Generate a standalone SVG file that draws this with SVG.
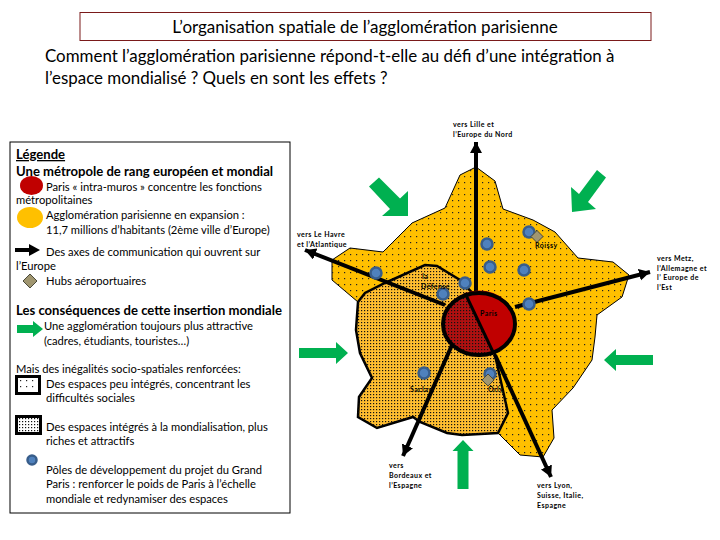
<svg xmlns="http://www.w3.org/2000/svg" width="720" height="540" viewBox="0 0 720 540">
<style>
text{font-family:"Lato","Open Sans","Liberation Sans",sans-serif;fill:#000}
.t{font-size:11.200px}
.h{font-size:13.100px;font-weight:700}
.s{font-size:16.900px}
.m{font-size:7px;letter-spacing:.45px;font-weight:700}
.road{fill:none;stroke:#000;stroke-width:4;marker-end:url(#ah)}
.line{fill:none;stroke:#000;stroke-width:3}
.pole{fill:#4F81BD;stroke:#385D8A;stroke-width:2.500}
.hub{fill:#A09670;stroke:#4a4a3a;stroke-width:1}
.green{fill:#00B050}
</style>
<defs>
<marker id="ah" markerUnits="userSpaceOnUse" markerWidth="14" markerHeight="14" refX="11" refY="6" orient="auto"><path d="M0 0L11 6L0 12Z" fill="#000"/></marker>
<pattern id="sparse" width="6" height="6" patternUnits="userSpaceOnUse"><rect x="2" y="2" width="1.200" height="1.200" fill="#222"/></pattern>
<pattern id="dense" width="3" height="3" patternUnits="userSpaceOnUse"><rect x="1" y="1" width="1.200" height="1.200" fill="#111"/></pattern>
</defs>
<rect width="720" height="540" fill="#fff"/>
<g id="title"><rect x="80" y="12.500" width="571" height="28" fill="#fff" stroke="#7a1a1a"/>
<text x="365" y="33" text-anchor="middle" font-size="17">L’organisation spatiale de l’agglomération parisienne</text></g>
<g id="question">
<text class="s" x="45" y="62">Comment l’agglomération parisienne répond-t-elle au défi d’une intégration à</text>
<text class="s" x="45" y="84">l’espace mondialisé ? Quels en sont les effets ?</text></g>
<g id="legend">
<rect x="10" y="142" width="280" height="371" fill="#fff" stroke="#000"/>
<text class="h" x="16" y="159" text-decoration="underline">Légende</text>
<text class="h" x="16" y="176">Une métropole de rang européen et mondial</text>
<ellipse cx="31.500" cy="185.500" rx="11.500" ry="9.500" fill="#C00000"/>
<text class="t" x="46" y="191">Paris « intra-muros » concentre les fonctions</text>
<text class="t" x="16" y="204">métropolitaines</text>
<ellipse cx="30" cy="217.500" rx="13" ry="10.500" fill="#FFC000"/>
<text class="t" x="46" y="219">Agglomération parisienne en expansion :</text>
<text class="t" x="46" y="234">11,7 millions d’habitants (2ème ville d’Europe)</text>
<path d="M15 250H30" stroke="#000" stroke-width="4"/><path d="M29 244L40 250L29 256Z" fill="#000"/>
<text class="t" x="46" y="256">Des axes de communication qui ouvrent sur</text>
<text class="t" x="16" y="270">l’Europe</text>
<path class="hub" d="M30 274L37 281L30 288L23 281Z"/>
<text class="t" x="46" y="285">Hubs aéroportuaires</text>
<text class="h" x="16" y="315">Les conséquences de cette insertion mondiale</text>
<path class="green" d="M17 325H33V321L43 329L33 337V333H17Z"/>
<text class="t" x="44" y="330">Une agglomération toujours plus attractive</text>
<text class="t" x="44" y="345">(cadres, étudiants, touristes…)</text>
<text class="t" x="16" y="373">Mais des inégalités socio-spatiales renforcées:</text>
<rect x="16.500" y="376.500" width="23" height="17" fill="#fff" stroke="#000" stroke-width="3"/><rect x="18" y="378" width="20" height="14" fill="url(#sparse)"/>
<text class="t" x="46" y="388">Des espaces peu intégrés, concentrant les</text>
<text class="t" x="46" y="402">difficultés sociales</text>
<rect x="16.500" y="416.500" width="24" height="17" fill="#fff" stroke="#000" stroke-width="3"/><rect x="18" y="418" width="21" height="14" fill="url(#dense)"/>
<text class="t" x="46" y="431">Des espaces intégrés à la mondialisation, plus</text>
<text class="t" x="46" y="445">riches et attractifs</text>
<circle class="pole" cx="32" cy="460" r="4.500"/>
<text class="t" x="46" y="474">Pôles de développement du projet du Grand</text>
<text class="t" x="46" y="488">Paris : renforcer le poids de Paris à l’échelle</text>
<text class="t" x="46" y="503">mondiale et redynamiser des espaces</text>
</g>
<g id="agglomeration">
<path d="M476 167L495 181L503 209L533 220L555 232L578 258L613 262L629 275L622 297L597 315L595 337L592 360L573 388L552 410L554 438L543 457L520 455L498 433L462 435L447 433L420 422L413 417L377 428L358 417L359 397L372 378L360 353L356 330L358 302L332 280L332 260L350 248L383 252L412 223L445 208L460 175Z" fill="#FFC000" stroke="#000"/>
<path d="M476 167L495 181L503 209L533 220L555 232L578 258L613 262L629 275L622 297L597 315L595 337L592 360L573 388L552 410L554 438L543 457L520 455L498 433L462 435L447 433L420 422L413 417L377 428L358 417L359 397L372 378L360 353L356 330L358 302L332 280L332 260L350 248L383 252L412 223L445 208L460 175Z" fill="url(#sparse)"/>
</g>
<g id="integrated">
<path d="M358 302L365 293L385 283L425 265L437 266L460 280L479 300L495 355L508 413L498 433L462 435L447 433L420 422L413 417L377 428L358 417L359 397L372 378L360 353L356 330Z" fill="#FFBE30" stroke="#000" stroke-width="2.500"/>
<path d="M358 302L365 293L385 283L425 265L437 266L460 280L479 300L495 355L508 413L498 433L462 435L447 433L420 422L413 417L377 428L358 417L359 397L372 378L360 353L356 330Z" fill="url(#dense)"/>
</g>
<g id="connectors">
<path class="road" d="M476 295V142"/>
<path class="road" d="M445 305L305 250"/>
<path class="road" d="M515 307L650 272"/>
<path class="road" d="M495 355L551 477"/>
<path class="road" d="M452 345L403 456"/>
<path class="green" d="M379 177.500L400 198.500L408 191L408 216L382 216L390 209L369 186.500Z"/>
<path class="green" d="M597 170L606 177.500L588 202L596 209L572 212L571 187L579 194Z"/>
<path class="green" d="M299 348H336V342L348 353L336 364V358H299Z"/>
<path class="green" d="M457.500 489V451H452.500L463 440L473.500 451H468.500V489Z"/>
<path class="green" d="M653 355H616V349L604 360L616 371V365H653Z"/>
</g>
<g id="paris">
<path d="M465 293A36 32 0 0 0 493 352Z" fill="#B01010"/>
<path d="M465 293A36 32 0 0 0 493 352Z" fill="url(#dense)"/>
<path d="M465 293A36 32 0 0 1 493 352Z" fill="#C00000"/>
<ellipse cx="479" cy="324" rx="36" ry="31" fill="none" stroke="#000" stroke-width="4"/>
<path class="line" d="M465 293L493 352"/>
<text class="m" x="480" y="316">Paris</text>
</g>
<g id="pole-1"><circle class="pole" cx="376" cy="273" r="5.500"/></g>
<g id="pole-2"><circle class="pole" cx="443" cy="294" r="5.500"/></g>
<g id="pole-3"><circle class="pole" cx="465" cy="283" r="5.500"/></g>
<g id="pole-4"><circle class="pole" cx="487" cy="244" r="5.500"/></g>
<g id="pole-5"><circle class="pole" cx="490" cy="267" r="5.500"/></g>
<g id="pole-6"><circle class="pole" cx="529" cy="232" r="5.500"/></g>
<g id="pole-7"><circle class="pole" cx="524" cy="270" r="5.500"/></g>
<g id="pole-8"><circle class="pole" cx="529" cy="304" r="5.500"/></g>
<g id="pole-9"><circle class="pole" cx="424" cy="373" r="5.500"/></g>
<g id="pole-10"><circle class="pole" cx="490" cy="374" r="5.500"/></g>
<g id="roissy"><path class="hub" d="M537 230.500L543 236.500L537 242.500L531 236.500Z"/><text class="m" x="535" y="248">Roissy</text></g>
<g id="orly"><path class="hub" d="M488 374L494 380L488 386L482 380Z"/><text class="m" x="488" y="392">Orly</text></g>
<g id="labels">
<text class="m" x="422" y="279">la</text><text class="m" x="421" y="289">Défense</text>
<text class="m" x="410" y="392">Saclay</text>
<text class="m" x="453" y="127">vers Lille et</text><text class="m" x="453" y="137">l’Europe du Nord</text>
<text class="m" x="297" y="237">vers Le Havre</text><text class="m" x="297" y="247">et l’Atlantique</text>
<text class="m" x="657" y="261">vers Metz,</text><text class="m" x="657" y="271">l’Allemagne et</text><text class="m" x="657" y="280">l’ Europe de</text><text class="m" x="657" y="290">l’Est</text>
<text class="m" x="389" y="468">vers</text><text class="m" x="389" y="478">Bordeaux et</text><text class="m" x="389" y="488">l’Espagne</text>
<text class="m" x="537" y="488">vers Lyon,</text><text class="m" x="537" y="498">Suisse, Italie,</text><text class="m" x="537" y="508">Espagne</text>
</g>
</svg>
